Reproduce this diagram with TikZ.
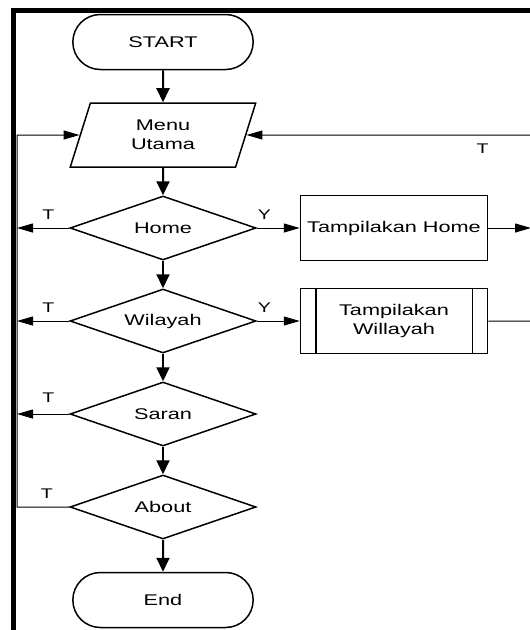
\documentclass[tikz,border=0pt]{standalone}
\usepackage{fontspec}
\setmainfont{Liberation Sans}[FakeStretch=1.4]
\usetikzlibrary{arrows.meta,shapes.geometric,shapes.misc,positioning}

\begin{document}
\begin{tikzpicture}[x=1pt,y=-1pt,node distance=93pt,font=\fontsize{15.5}{19}\selectfont,
                    terminal/.style={rounded rectangle,draw,line width=1.5pt,minimum width=187pt,minimum height=55pt},
                    io/.style={trapezium,trapezium left angle=75,trapezium right angle=105,trapezium stretches=true,
                               draw,line width=1.5pt,minimum width=187pt,minimum height=64pt,align=center},
                    decision/.style={diamond,aspect=2.9,draw,line width=1.5pt,minimum width=186pt,minimum height=64pt,inner sep=0pt},
                    process/.style={rectangle,draw,line width=1.5pt,minimum width=187pt,minimum height=65pt,align=center},
                    flow/.style={-{Triangle[length=14pt,width=13pt]},line width=2pt},
                    back/.style={line width=1pt},
                    tip/.style={-{Triangle[length=16pt,width=9pt]}},
                    lbl/.style={font=\fontsize{14}{16}\selectfont,above=5pt}]

  \clip (0,0) rectangle (530,630);
  % page frame
  \draw[line width=5pt] (13.5,640) -- (13.5,10.5) -- (540,10.5);

  \node[terminal] (start) at (163,42) {START};
  \node[io] (menu) [below of=start] {Menu\\Utama};
  \node[decision] (home) [below of=menu] {Home};
  \node[decision] (wilayah) [below of=home] {Wilayah};
  \node[decision] (saran) [below of=wilayah] {Saran};
  \node[decision] (about) [below of=saran] {About};
  \node[terminal] (end) [below of=about] {End};

  \node[process] (thome) [right of=home,node distance=231pt] {Tampilakan Home};
  \node[process] (twilayah) [right of=wilayah,node distance=231pt] {Tampilakan\\Willayah};
  \draw[line width=1.5pt] ([xshift=16pt]twilayah.north west) -- ([xshift=16pt]twilayah.south west)
                          ([xshift=-16pt]twilayah.north east) -- ([xshift=-16pt]twilayah.south east);

  \coordinate (kiri) at (17,0);
  \coordinate (kanan) at (531,0);

  \path[flow]
    (start) edge (menu)
    (menu) edge (home)
    (home) edge (wilayah)
    (wilayah) edge (saran)
    (saran) edge (about)
    (about) edge (end);

  % T branches to the left
  \draw[back,tip] (home.west) -- node[lbl,pos=0.4] {T} (kiri |- home);
  \draw[back,tip] (wilayah.west) -- node[lbl,pos=0.4] {T} (kiri |- wilayah);
  \draw[back,tip] (saran.west) -- node[lbl,pos=0.4,above=8pt] {T} (kiri |- saran);
  \draw[back,tip] (about.west) -- node[lbl,pos=0.43] {T} (kiri |- about) -- (kiri |- menu) -- (menu.west);

  % Y branches to the right
  \draw[back,tip] (home.east) -- node[lbl,pos=0.18] {Y} (thome.west);
  \draw[back,tip] (wilayah.east) -- node[lbl,pos=0.18] {Y} (twilayah.west);
  \draw[back,tip] (thome.east) -- (kanan |- thome);
  \draw[back,tip] (twilayah.east) -- (kanan |- twilayah) -- (kanan |- menu)
    -- node[font=\fontsize{14}{16}\selectfont,below=5pt,pos=0.17] {T} (menu.east);
\end{tikzpicture}
\end{document}
